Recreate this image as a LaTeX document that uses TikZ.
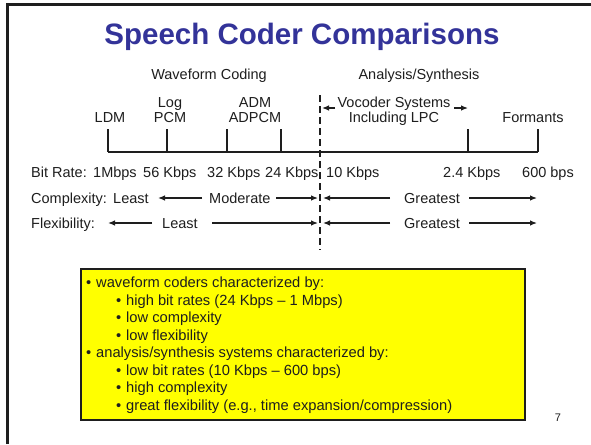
\documentclass[tikz,border=0pt]{standalone}
\usepackage{fontspec}
\setmainfont{Liberation Sans}
\usetikzlibrary{arrows.meta}
\definecolor{titleblue}{RGB}{51,51,153}
\definecolor{ink}{RGB}{30,30,30}
\definecolor{notefill}{RGB}{255,255,0}
\begin{document}
\begin{tikzpicture}[x=1pt,y=-1pt,
  every node/.style={inner sep=0pt, text=ink, font=\fontsize{14.5}{17.5}\selectfont},
  lbl/.style={anchor=base},
  lblw/.style={anchor=base west},
  tickline/.style={line width=1.6pt, draw=ink},
  arr/.style={line width=1.2pt, draw=ink, -{Latex[length=7pt,width=5.5pt]}},
  divider/.style={line width=1.5pt, draw=ink, dash pattern=on 7pt off 4pt},
  notebox/.style={draw=ink, fill=notefill, line width=1.5pt, anchor=north west,
                  minimum width=444pt, minimum height=151pt},
  boxtxt/.style={anchor=base west, font=\fontsize{14.7}{17.5}\selectfont},
]
\useasboundingbox (0,0) rectangle (591,444);
\fill[white] (0,0) rectangle (591,444);

% slide frame (top and left edges)
\draw[line width=2.7pt, ink, line join=miter] (7.5,444) -- (7.5,4.3) -- (591,4.3);

% title
\node[anchor=base, font=\fontsize{29.5}{34}\selectfont\bfseries, text=titleblue]
  (title) at (302,45) {Speech Coder Comparisons};

% group headings
\node[lbl] (wf) at (209,79) {Waveform Coding};
\node[lbl] (as) at (419,79) {Analysis/Synthesis};

% coder labels
\node[lbl] (ldm)   at (110,122.5) {LDM};
\node[lbl] (log)   at (170,107.5) {Log};
\node[lbl] (pcm)   at (170,122.5) {PCM};
\node[lbl] (adm)   at (255,107.5) {ADM};
\node[lbl] (adpcm) at (255,122.5) {ADPCM};
\node[lbl] (voc)   at (394,107.5) {Vocoder Systems};
\node[lbl] (lpc)   at (394,122.5) {Including LPC};
\node[lbl] (fmt)   at (533,122.5) {Formants};

% bit-rate axis with ticks
\foreach \i/\x in {1/108,2/167,3/227,4/281,5/468,6/538} {
  \coordinate (t\i) at (\x,129);
  \coordinate (b\i) at (\x,152);
  \draw[tickline] (t\i) -- (b\i);
}
\draw[tickline] (b1) -- (b6);

% dashed divider between the two families
\coordinate (dtop) at (320,95);
\coordinate (dbot) at (320,250);
\draw[divider] (dtop) -- (dbot);

% vocoder range arrows
\coordinate (va) at (335,108);
\coordinate (vat) at (322,108);
\coordinate (vb) at (454,108);
\coordinate (vbt) at (468,108);
\draw[arr] (va) -- (vat);
\draw[arr] (vb) -- (vbt);

% bit rates
\node[lblw] (br) at (31,177)  {Bit Rate:};
\node[lblw] (r1) at (93,177)  {1Mbps};
\node[lblw] (r2) at (143,177) {56 Kbps};
\node[lblw] (r3) at (207,177) {32 Kbps};
\node[lblw] (r4) at (265,177) {24 Kbps};
\node[lblw] (r5) at (326,177) {10 Kbps};
\node[lblw] (r6) at (443,177) {2.4 Kbps};
\node[lblw] (r7) at (522,177) {600 bps};

% complexity row
\node[lblw] (cx) at (31,203)  {Complexity:};
\node[lblw] (cl) at (113,203) {Least};
\node[lblw] (cm) at (209,203) {Moderate};
\node[lblw] (cg) at (404,203) {Greatest};
\coordinate (c1) at (202,198); \coordinate (c1t) at (158,198);
\coordinate (c2) at (276,198); \coordinate (c2t) at (318,198);
\coordinate (c3) at (390,198); \coordinate (c3t) at (323,198);
\coordinate (c4) at (469,198); \coordinate (c4t) at (537,198);
\draw[arr] (c1) -- (c1t);
\draw[arr] (c2) -- (c2t);
\draw[arr] (c3) -- (c3t);
\draw[arr] (c4) -- (c4t);

% flexibility row
\node[lblw] (fx) at (31,228)  {Flexibility:};
\node[lblw] (fl) at (162,228) {Least};
\node[lblw] (fg) at (404,228) {Greatest};
\coordinate (f1) at (152,223); \coordinate (f1t) at (108,223);
\coordinate (f2) at (212,223); \coordinate (f2t) at (318,223);
\coordinate (f3) at (390,223); \coordinate (f3t) at (323,223);
\coordinate (f4) at (469,223); \coordinate (f4t) at (537,223);
\draw[arr] (f1) -- (f1t);
\draw[arr] (f2) -- (f2t);
\draw[arr] (f3) -- (f3t);
\draw[arr] (f4) -- (f4t);

% summary box
\node[notebox] (note) at (80,268) {};
\foreach \y/\t in {287.5/{waveform coders characterized by:},
                   357.5/{analysis/synthesis systems characterized by:}} {
  \node[boxtxt] at (86,\y) {\textbullet};
  \node[boxtxt] at (96,\y) {\t};
}
\foreach \y/\t in {305/{high bit rates (24 Kbps -- 1 Mbps)},
                   322.5/{low complexity},
                   340/{low flexibility},
                   375/{low bit rates (10 Kbps -- 600 bps)},
                   392.5/{high complexity},
                   410/{great flexibility (e.g., time expansion/compression)}} {
  \node[boxtxt] at (116,\y) {\textbullet};
  \node[boxtxt] at (126,\y) {\t};
}

% page number
\node[anchor=base, font=\fontsize{11}{13}\selectfont] (pg) at (558,421) {7};
\end{tikzpicture}
\end{document}
